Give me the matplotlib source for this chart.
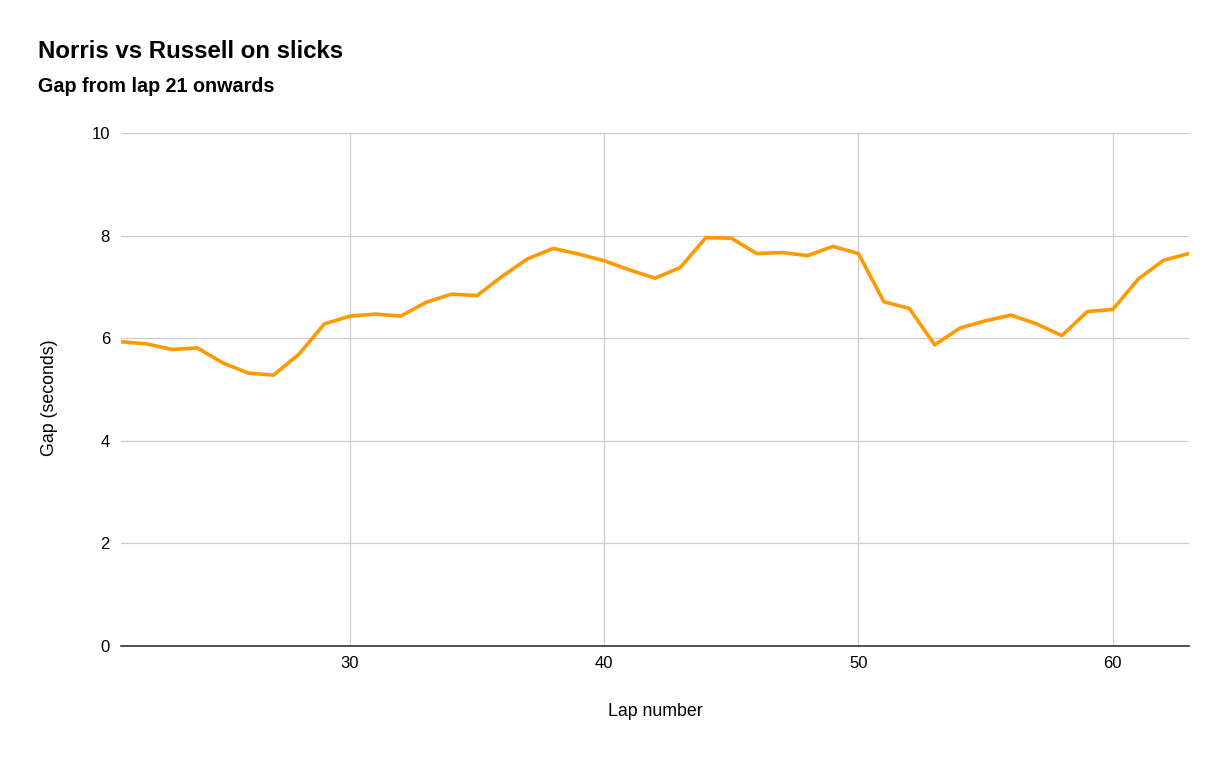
import matplotlib
matplotlib.use("Agg")
import matplotlib.pyplot as plt

plt.rcParams["font.family"] = ["Liberation Sans", "DejaVu Sans"]

# lap numbers and gap (seconds)
laps = list(range(21, 64))
gap = [5.93, 5.89, 5.78, 5.81, 5.52, 5.32, 5.28, 5.69, 6.28, 6.43,
       6.47, 6.43, 6.70, 6.86, 6.83, 7.21, 7.55, 7.75, 7.64, 7.51,
       7.33, 7.17, 7.38, 7.96, 7.95, 7.65, 7.67, 7.61, 7.79, 7.65,
       6.71, 6.58, 5.87, 6.20, 6.34, 6.45, 6.28, 6.05, 6.52, 6.56,
       7.15, 7.52, 7.65]

x_ticks = [30, 40, 50, 60]
y_ticks = [0, 2, 4, 6, 8, 10]

W, H = 1227, 759
fig = plt.figure(figsize=(W / 100, H / 100), dpi=100)
ax = fig.add_axes([121 / W, (H - 646) / H, (1189 - 121) / W, (646 - 133) / H])

ax.plot(laps, gap, color="#ff9900", linewidth=2.6, solid_joinstyle="round", zorder=3)

ax.set_xlim(21, 63)
ax.set_ylim(0, 10)
ax.set_xticks(x_ticks)
ax.set_yticks(y_ticks)
ax.grid(True, color="#cccccc", linewidth=0.9)
ax.set_axisbelow(True)
for side in ["top", "right", "left"]:
    ax.spines[side].set_visible(False)
ax.spines["bottom"].set_color("#333333")
ax.spines["bottom"].set_linewidth(1.2)
ax.spines["bottom"].set_zorder(4)
ax.tick_params(axis="both", length=0, labelsize=12, colors="#000000")
ax.tick_params(axis="y", pad=8)
ax.tick_params(axis="x", pad=7)

fig.text(38 / W, 1 - 52 / H, "Norris vs Russell on slicks", fontsize=17.3, fontweight="bold", va="center")
fig.text(38 / W, 1 - 87 / H, "Gap from lap 21 onwards", fontsize=14.2, fontweight="bold", va="center")
fig.text(50 / W, 1 - 398 / H, "Gap (seconds)", fontsize=12.8, rotation=90, ha="center", va="center")
fig.text(655 / W, 1 - 711 / H, "Lap number", fontsize=12.8, ha="center", va="center")

fig.savefig("out.png", dpi=100, facecolor="white")
